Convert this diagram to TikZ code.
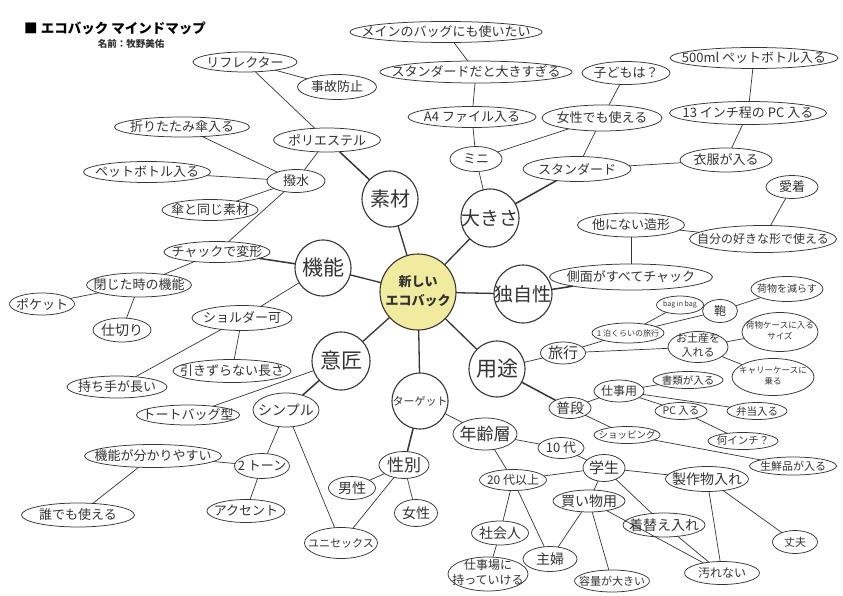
\documentclass[tikz,border=0pt]{standalone}
\usepackage{fontspec}
\newfontfamily\jp{Noto Sans CJK JP}
\usetikzlibrary{shapes.geometric}
\definecolor{ln}{HTML}{3A3333}
\definecolor{tx}{HTML}{333333}
\definecolor{cy}{HTML}{F1EBA0}
\newcommand\ctx[1]{\makebox[0pt]{\vbox to 0pt{\vss\hbox{#1}\vss}}}
\newcommand\twol[2]{\renewcommand\arraystretch{1.25}\begin{tabular}{@{}c@{}}#1\\#2\end{tabular}}
\tikzset{
 el/.style n args={3}{shape=ellipse,draw=ln,line width=0.75pt,inner sep=0pt,outer sep=0pt,minimum width=#1pt,minimum height=#2pt,font=\jp\fontsize{#3}{#3}\selectfont,text=tx,fill=white},
 circ/.style n args={2}{shape=circle,draw=ln,line width=1.1pt,inner sep=0pt,outer sep=0pt,minimum size=#1pt,font=\jp\fontsize{#2}{#2}\selectfont,text=tx,fill=white},
 lk/.style={draw=ln,line width=0.7pt},
 lkb/.style={draw=ln,line width=1.5pt},
 lkm/.style={draw=ln,line width=1.3pt},
}
\begin{document}
\begin{tikzpicture}[x=1pt,y=-1pt]
\useasboundingbox[fill=white] (0,0) rectangle (843,596);
% title
\node[anchor=west,font=\jp\bfseries\fontsize{13.5}{14}\selectfont,text=black,inner sep=0pt] (title) at (24,28) {■ エコバック マインドマップ};
\node[font=\jp\bfseries\fontsize{9.5}{10}\selectfont,text=tx,inner sep=0pt] (name) at (131,44) {名前：牧野美佑};
% main circles
\node[circ={76}{13},fill=cy,font=\jp\bfseries\fontsize{13}{15}\selectfont] (c0) at (418,292) {\ctx{\twol{新しい}{エコバック}}};
\node[circ={56}{20}] (soz) at (390,199) {\ctx{素材}};
\node[circ={58}{19}] (ook) at (490,218) {\ctx{大きさ}};
\node[circ={56}{21}] (kin) at (323,268) {\ctx{機能}};
\node[circ={58}{19}] (dok) at (523,294) {\ctx{独自性}};
\node[circ={58}{21}] (ish) at (341,361) {\ctx{意匠}};
\node[circ={56}{21}] (yot) at (497,369) {\ctx{用途}};
\node[circ={56}{11}] (tar) at (420,401) {\ctx{ターゲット}};
% 素材
\node[el={107}{24}{13}] (poly) at (327,140) {\ctx{ポリエステル}};
\node[el={104}{20}{13}] (refl) at (245,62) {\ctx{リフレクター}};
\node[el={79}{25}{13}] (jiko) at (337,87) {\ctx{事故防止}};
\node[el={58}{23}{13}] (hass) at (296,181) {\ctx{撥水}};
\node[el={135}{20}{13}] (orit) at (182,127) {\ctx{折りたたみ傘入る}};
\node[el={127}{21}{13}] (pet) at (147,172) {\ctx{ペットボトル入る}};
\node[el={96}{21}{13}] (kasa) at (210,210) {\ctx{傘と同じ素材}};
% 機能
\node[el={106}{21}{13}] (chak) at (217,252) {\ctx{チャックで変形}};
\node[el={105}{24}{13}] (toji) at (139,285) {\ctx{閉じた時の機能}};
\node[el={65}{22}{13}] (poke) at (42,304) {\ctx{ポケット}};
\node[el={58}{24}{14}] (shik) at (122,330) {\ctx{仕切り}};
\node[el={100}{25}{13}] (shol) at (242,318) {\ctx{ショルダー可}};
\node[el={100}{22}{13}] (moch) at (117,387) {\ctx{持ち手が長い}};
\node[el={118}{23}{13}] (hiki) at (232,371) {\ctx{引きずらない長さ}};
% 意匠
\node[el={103}{20}{13}] (tote) at (188,415) {\ctx{トートバッグ型}};
\node[el={66}{34}{14}] (simp) at (286,410) {\ctx{シンプル}};
\node[el={55}{25}{13}] (twot) at (262,466) {\ctx{2 トーン}};
\node[el={78}{23}{13}] (acce) at (246,511) {\ctx{アクセント}};
\node[el={137}{23}{13}] (wakar) at (153,456) {\ctx{機能が分かりやすい}};
\node[el={113}{24}{13}] (dare) at (78,515) {\ctx{誰でも使える}};
\node[el={73}{31}{11}] (unis) at (341,543) {\ctx{ユニセックス}};
% ターゲット
\node[el={50}{27}{17}] (seib) at (404,465) {\ctx{性別}};
\node[el={47}{23}{14}] (dans) at (352,488) {\ctx{男性}};
\node[el={43}{27}{14}] (jose) at (416,513) {\ctx{女性}};
\node[el={64}{32}{17}] (nenr) at (485,434) {\ctx{年齢層}};
\node[el={67}{21}{12}] (n20) at (513,480) {\ctx{20 代以上}};
\node[el={57}{24}{14}] (shak) at (500,533) {\ctx{社会人}};
\node[el={80}{34}{12}] (shig) at (488,574) {\ctx{\twol{仕事場に}{持っていける}}};
\node[el={54}{25}{14}] (shuf) at (550,559) {\ctx{主婦}};
\node[el={46}{21}{13}] (n10) at (561,448) {\ctx{10 代}};
\node[el={42}{27}{15}] (gaku) at (604,468) {\ctx{学生}};
\node[el={83}{25}{14}] (seis) at (707,479) {\ctx{製作物入れ}};
\node[el={72}{22}{14}] (kaim) at (589,501) {\ctx{買い物用}};
\node[el={82}{24}{14}] (kiga) at (664,525) {\ctx{着替え入れ}};
\node[el={75}{23}{12}] (yogo) at (722,573) {\ctx{汚れない}};
\node[el={45}{23}{11}] (joub) at (795,542) {\ctx{丈夫}};
\node[el={75}{22}{11}] (yoryo) at (612,581) {\ctx{容量が大きい}};
% 用途
\node[el={45}{22}{15}] (ryok) at (563,353) {\ctx{旅行}};
\node[el={72}{20}{8}] (ipp) at (628,333) {\ctx{1 泊くらいの旅行}};
\node[el={47}{18}{7}] (bib) at (680,305) {\ctx{bag in bag}};
\node[el={35}{23}{12}] (kab) at (720,311) {\ctx{鞄}};
\node[el={72}{25}{10}] (nimo) at (787,289) {\ctx{荷物を減らす}};
\node[el={60}{31}{11}] (omiy) at (698,347) {\ctx{\twol{お土産を}{入れる}}};
\node[el={76}{39}{8.5}] (nimc) at (780,332) {\ctx{\twol{荷物ケースに入る}{サイズ}}};
\node[el={82}{37}{8.5}] (carr) at (773,377) {\ctx{\twol{キャリーケースに}{乗る}}};
\node[el={42}{21}{14}] (fuda) at (570,408) {\ctx{普段}};
\node[el={50}{22}{12}] (shiy) at (619,391) {\ctx{仕事用}};
\node[el={70}{17}{10.5}] (shor) at (688,380) {\ctx{書類が入る}};
\node[el={52}{17}{10.5}] (pc) at (681,411) {\ctx{PC 入る}};
\node[el={60}{17}{10.5}] (bent) at (757,411) {\ctx{弁当入る}};
\node[el={70}{17}{10.5}] (nani) at (743,441) {\ctx{何インチ？}};
\node[el={66}{17}{9.5}] (shop) at (627,435) {\ctx{ショッピング}};
\node[el={87}{18}{11}] (sesn) at (793,466) {\ctx{生鮮品が入る}};
% 独自性
\node[el={163}{26}{13}] (soku) at (631,277) {\ctx{側面がすべてチャック}};
\node[el={107}{24}{13}] (hoka) at (631,225) {\ctx{他にない造形}};
\node[el={147}{27}{12}] (jibu) at (763,239) {\ctx{自分の好きな形で使える}};
\node[el={52}{23}{13}] (aich) at (792,187) {\ctx{愛着}};
% 大きさ
\node[el={108}{25}{13}] (std) at (577,169) {\ctx{スタンダード}};
\node[el={52}{25}{13}] (mini) at (476,159) {\ctx{ミニ}};
\node[el={128}{21}{13}] (a4) at (472,117) {\ctx{A4 ファイル入る}};
\node[el={192}{22}{13}] (stdd) at (476,72) {\ctx{スタンダードだと大きすぎる}};
\node[el={192}{21}{13}] (main) at (446,32) {\ctx{メインのバッグにも使いたい}};
\node[el={120}{26}{13}] (jos2) at (602,118) {\ctx{女性でも使える}};
\node[el={88}{23}{13}] (kodo) at (626,73) {\ctx{子どもは？}};
\node[el={92}{24}{13}] (ifuk) at (726,160) {\ctx{衣服が入る}};
\node[el={157}{23}{13}] (inch) at (748,113) {\ctx{13 インチ程の PC 入る}};
\node[el={168}{21}{13}] (ml) at (754,58) {\ctx{500ml ペットボトル入る}};
% spokes
\foreach \n in {soz,ook,kin,dok,ish,yot,tar} \draw[lkm] (c0) -- (\n);
% thick branches
\foreach \a/\b in {soz/poly,ook/std,kin/chak,dok/soku,ish/simp,tar/seib,yot/fuda} \draw[lkb] (\a) -- (\b);
% thin branches
\foreach \a/\b in {poly/refl,refl/jiko,poly/hass,hass/orit,hass/pet,hass/kasa,hass/chak,chak/toji,toji/poke,toji/shik,kin/shol,shol/moch,shol/hiki,
 ish/tote,simp/twot,simp/unis,twot/acce,twot/wakar,wakar/dare,
 seib/dans,seib/jose,seib/unis,tar/nenr,nenr/n10,nenr/n20,n20/shak,shak/shig,n20/shuf,n20/gaku,n10/gaku,gaku/seis,gaku/kaim,gaku/kiga,kaim/shuf,kaim/yoryo,kaim/yogo,kiga/yogo,seis/yogo,seis/joub,
 yot/ryok,ryok/ipp,ipp/bib,ipp/kab,kab/nimo,ryok/omiy,omiy/nimc,omiy/carr,fuda/shiy,shiy/shor,shiy/pc,shiy/bent,pc/nani,fuda/shop,shop/sesn,
 soku/hoka,hoka/jibu,jibu/aich,
 ook/mini,mini/a4,a4/stdd,stdd/main,mini/jos2,jos2/kodo,jos2/std,std/ifuk,ifuk/inch,inch/ml}
 \draw[lk] (\a) -- (\b);
\end{tikzpicture}
\end{document}
